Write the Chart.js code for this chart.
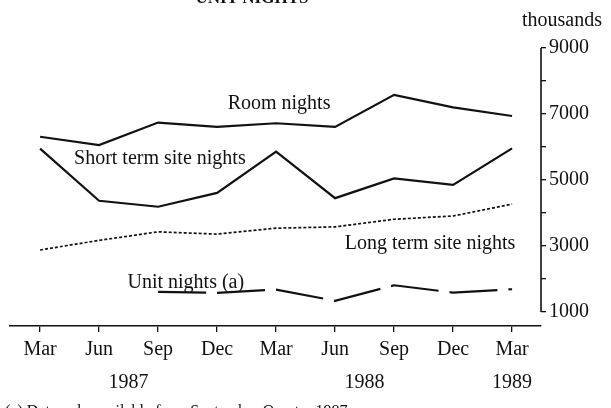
<!DOCTYPE html>
<html>
<head>
<meta charset="utf-8">
<script src="https://cdn.jsdelivr.net/npm/chart.js@4"></script>
<style>
  html, body { margin: 0; padding: 0; background: #fff; }
  #wrap { width: 611px; height: 408px; position: relative; }
</style>
</head>
<body>
<div id="wrap"><canvas id="c"></canvas></div>
<script>
// ---- data ----
const categories = ['Mar', 'Jun', 'Sep', 'Dec', 'Mar', 'Jun', 'Sep', 'Dec', 'Mar'];
const years = ['1987', '1988', '1989'];
const yearIndex = [1.5, 5.5, 8];
const roomNights = [6310, 6060, 6740, 6610, 6720, 6610, 7580, 7200, 6940];
const shortTermSiteNights = [5950, 4370, 4190, 4610, 5860, 4450, 5050, 4850, 5960];
const longTermSiteNights = [2880, 3170, 3430, 3360, 3540, 3580, 3810, 3910, 4270];
const unitNights = [null, null, 1610, 1580, 1680, 1340, 1810, 1590, 1690];
const yTicks = [1000, 2000, 3000, 4000, 5000, 6000, 7000, 8000, 9000];
const yTickLabels = [1000, 3000, 5000, 7000, 9000];
const seriesNames = ['Room nights', 'Short term site nights', 'Long term site nights', 'Unit nights (a)'];

// label anchors in data coordinates (category index, value)
const labelAnchors = [
  { text: seriesNames[0], x: 4.05, y: 7300 },
  { text: seriesNames[1], x: 2.03, y: 5640 },
  { text: seriesNames[2], x: 6.61, y: 3060 },
  { text: seriesNames[3], x: 2.47, y: 1880 }
];

const FONT = '"Liberation Serif", "DejaVu Serif", serif';
const INK = '#111';

function toPoints(arr) {
  return arr.map((v, i) => ({ x: i, y: v }));
}

const annotate = {
  id: 'annotate',
  afterDraw(chart) {
    const ctx = chart.ctx;
    const xs = chart.scales.x, ys = chart.scales.y;
    const ca = chart.chartArea;
    ctx.save();
    // right value axis line from 9000 down to 1000
    ctx.strokeStyle = INK;
    ctx.lineWidth = 1.6;
    ctx.beginPath();
    ctx.moveTo(ca.right, ys.getPixelForValue(yTicks[yTicks.length - 1]));
    ctx.lineTo(ca.right, ys.getPixelForValue(yTicks[0]));
    ctx.stroke();

    ctx.fillStyle = INK;
    ctx.textAlign = 'center';
    ctx.textBaseline = 'middle';
    ctx.font = '20px ' + FONT;
    labelAnchors.forEach(a => {
      ctx.fillText(a.text, xs.getPixelForValue(a.x), ys.getPixelForValue(a.y));
    });
    // year labels under the month ticks
    years.forEach((y, i) => {
      ctx.fillText(y, xs.getPixelForValue(yearIndex[i]), 383);
    });
    // unit caption
    ctx.fillText('thousands', 562, 21);
    // title (cut by the top edge as in the reference)
    ctx.font = 'bold 17px ' + FONT;
    ctx.textBaseline = 'alphabetic';
    ctx.fillText('UNIT NIGHTS', 252, 3);
    // footnote (cut by the bottom edge)
    ctx.font = '16px ' + FONT;
    ctx.textAlign = 'left';
    ctx.fillText('(a) Data only available from September Quarter 1987.', 5, 416);
    ctx.restore();
  }
};

new Chart(document.getElementById('c'), {
  type: 'line',
  data: {
    datasets: [
      { label: seriesNames[0], data: toPoints(roomNights), borderColor: INK, borderWidth: 2.2, pointRadius: 0, tension: 0 },
      { label: seriesNames[1], data: toPoints(shortTermSiteNights), borderColor: INK, borderWidth: 2.2, pointRadius: 0, tension: 0 },
      { label: seriesNames[2], data: toPoints(longTermSiteNights), borderColor: INK, borderWidth: 1.7, borderDash: [3, 2], pointRadius: 0, tension: 0 },
      { label: seriesNames[3], data: toPoints(unitNights), borderColor: INK, borderWidth: 2.2, borderDash: [48, 11], pointRadius: 0, tension: 0, spanGaps: false }
    ]
  },
  options: {
    responsive: true,
    maintainAspectRatio: false,
    animation: false,
    layout: { padding: { top: 48, left: 10, right: 0, bottom: 0 } },
    plugins: { legend: { display: false }, tooltip: { enabled: false }, title: { display: false } },
    scales: {
      x: {
        type: 'linear',
        min: -0.51,
        max: 8.49,
        afterBuildTicks(scale) { scale.ticks = categories.map((c, i) => ({ value: i })); },
        afterFit(scale) { scale.height = 82; },
        ticks: {
          autoSkip: false,
          maxRotation: 0,
          padding: 6,
          color: INK,
          font: { family: FONT, size: 20 },
          callback: (v) => categories[v]
        },
        grid: { display: true, drawOnChartArea: false, drawTicks: true, tickLength: 6, color: INK, lineWidth: 1.3 },
        border: { display: true, color: INK, width: 1.6 }
      },
      y: {
        type: 'linear',
        position: 'right',
        min: 576,
        max: 9000,
        afterBuildTicks(scale) { scale.ticks = yTicks.map(v => ({ value: v })); },
        afterFit(scale) { scale.width = 70; },
        ticks: {
          padding: 3,
          color: INK,
          font: { family: FONT, size: 20 },
          callback: (v) => (yTickLabels.includes(v) ? String(v) : '')
        },
        grid: { display: true, drawOnChartArea: false, drawTicks: true, tickLength: 5, color: INK, lineWidth: 1.3 },
        border: { display: false }
      }
    }
  },
  plugins: [annotate]
});
</script>
</body>
</html>
